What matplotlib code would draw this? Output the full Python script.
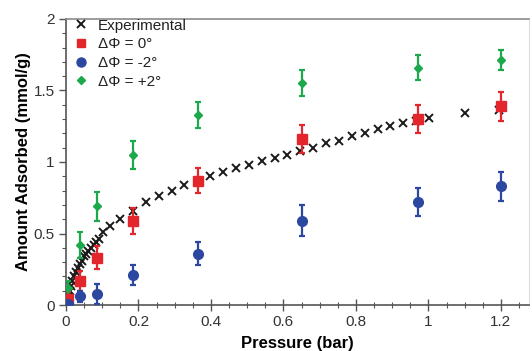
import matplotlib
matplotlib.use('Agg')
import matplotlib.pyplot as plt
from matplotlib.lines import Line2D
from matplotlib.ticker import MultipleLocator, FuncFormatter

# experimental isotherm
exp_p = [0.002, 0.006, 0.010, 0.014, 0.018, 0.023, 0.028, 0.033, 0.038, 0.044,
         0.050, 0.056, 0.062, 0.069, 0.076, 0.083, 0.091, 0.102, 0.121, 0.149,
         0.185, 0.222, 0.257, 0.292, 0.327, 0.363, 0.398, 0.434, 0.469, 0.505,
         0.540, 0.576, 0.611, 0.647, 0.682, 0.718, 0.753, 0.789, 0.824, 0.860,
         0.895, 0.931, 0.966, 1.002, 1.100, 1.195]
exp_q = [0.02, 0.06, 0.10, 0.13, 0.17, 0.20, 0.23, 0.26, 0.29, 0.31,
         0.34, 0.36, 0.38, 0.40, 0.42, 0.44, 0.46, 0.51, 0.55, 0.60,
         0.66, 0.72, 0.76, 0.80, 0.84, 0.87, 0.90, 0.93, 0.96, 0.98,
         1.01, 1.03, 1.05, 1.08, 1.10, 1.13, 1.15, 1.18, 1.20, 1.23,
         1.25, 1.27, 1.29, 1.31, 1.34, 1.36]

# simulated points
sim_p = [0.005, 0.04, 0.085, 0.185, 0.365, 0.65, 0.97, 1.2]
q_0 = [0.04, 0.17, 0.33, 0.59, 0.87, 1.16, 1.30, 1.39]
err_0 = [0.05, 0.07, 0.08, 0.09, 0.09, 0.10, 0.10, 0.10]
q_m2 = [0.01, 0.06, 0.08, 0.21, 0.36, 0.59, 0.72, 0.83]
err_m2 = [0.03, 0.04, 0.07, 0.07, 0.08, 0.11, 0.10, 0.10]
q_p2 = [0.12, 0.42, 0.69, 1.05, 1.33, 1.55, 1.66, 1.71]
err_p2 = [0.05, 0.09, 0.10, 0.10, 0.09, 0.09, 0.09, 0.07]

labels = ['Experimental', 'ΔΦ = 0°', 'ΔΦ = -2°', 'ΔΦ = +2°']

RED = '#e3262b'
BLUE = '#2c47a0'
GREEN = '#1ba94c'

plt.rcParams['font.family'] = ['Liberation Sans', 'DejaVu Sans']

fig = plt.figure(figsize=(5.32, 3.51), dpi=100)
ax = fig.add_axes([0.124, 0.131, 0.870, 0.815])

ax.plot(exp_p, exp_q, linestyle='none', marker='x', color='#1a1a1a',
        markersize=5.5, markeredgewidth=1.4, zorder=3)
ebkw = dict(elinewidth=1.6, capsize=2.5, capthick=1.6, zorder=4)
ax.errorbar(sim_p, q_0, yerr=err_0, fmt='s', color=RED, markersize=6.5, **ebkw)
ax.errorbar(sim_p, q_m2, yerr=err_m2, fmt='o', color=BLUE, markersize=7, **ebkw)
ax.errorbar(sim_p, q_p2, yerr=err_p2, fmt='D', color=GREEN, markersize=4.5, **ebkw)

ax.set_xlim(0, 1.277)
ax.set_ylim(0, 2)
ax.xaxis.set_major_locator(MultipleLocator(0.2))
ax.xaxis.set_minor_locator(MultipleLocator(0.05))
ax.yaxis.set_major_locator(MultipleLocator(0.5))
ax.yaxis.set_minor_locator(MultipleLocator(0.1))
fmt = FuncFormatter(lambda v, pos: '%g' % round(v, 3))
ax.xaxis.set_major_formatter(fmt)
ax.yaxis.set_major_formatter(fmt)
ax.tick_params(which='major', length=5, width=1, color='#555555',
               labelsize=11, labelcolor='#333333', pad=3)
ax.tick_params(which='minor', length=3, width=0.8, color='#555555')
ax.tick_params(axis='x', which='major', direction='inout', length=8, pad=3)
ax.tick_params(axis='x', which='minor', direction='inout', length=5)

for s in ['left', 'bottom']:
    ax.spines[s].set_color('#555555')
    ax.spines[s].set_linewidth(1.2)
ax.spines['top'].set_color('#8a8a8a')
ax.spines['top'].set_linewidth(1.2)
ax.spines['right'].set_color('#dddddd')
ax.spines['right'].set_linewidth(0.8)

ax.set_xlabel('Pressure (bar)', fontsize=12, fontweight='bold', labelpad=5)
ax.set_ylabel('Amount Adsorbed (mmol/g)', fontsize=12, fontweight='bold', labelpad=2)

handles = [
    Line2D([], [], linestyle='none', marker='x', color='#1a1a1a', markersize=5.5, markeredgewidth=1.4),
    Line2D([], [], linestyle='none', marker='s', color=RED, markersize=6),
    Line2D([], [], linestyle='none', marker='o', color=BLUE, markersize=6.5),
    Line2D([], [], linestyle='none', marker='D', color=GREEN, markersize=4.5),
]
leg = ax.legend(handles, labels, loc='upper left', frameon=False, fontsize=11,
                handletextpad=0.6, labelspacing=0.3, borderaxespad=0.0,
                handlelength=1.0, bbox_to_anchor=(0.003, 1.022))
for t in leg.get_texts():
    t.set_color('#222222')

fig.savefig('out.png', dpi=100)
